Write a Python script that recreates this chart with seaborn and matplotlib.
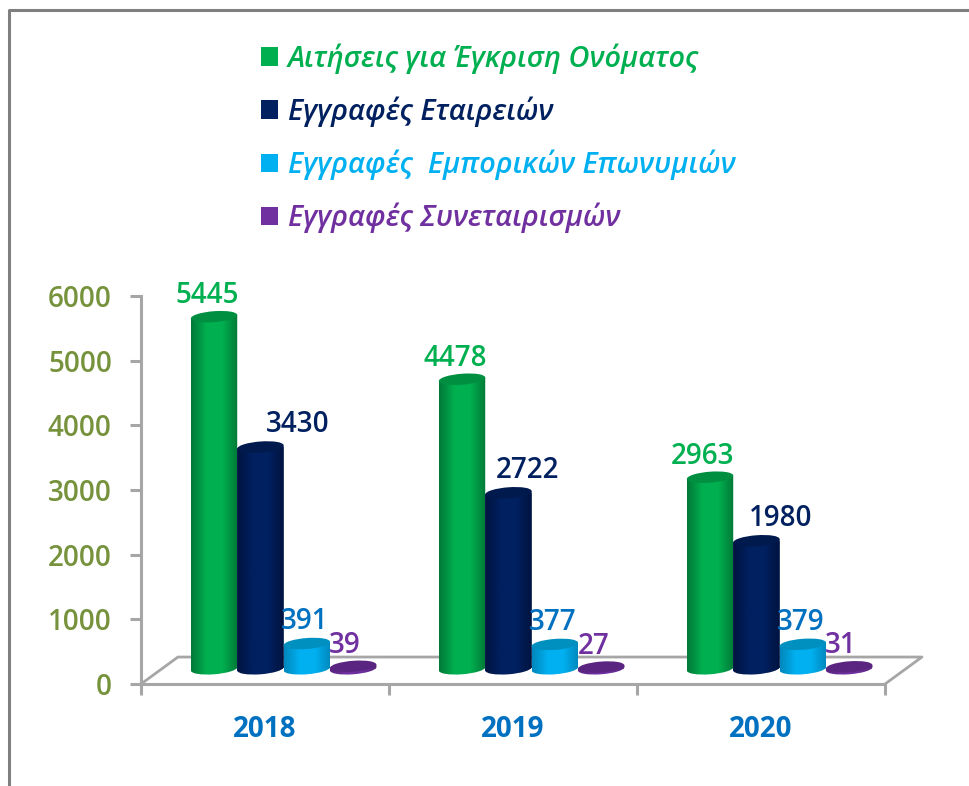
import numpy as np
import pandas as pd
import seaborn as sns
import matplotlib
matplotlib.use("Agg")
import matplotlib.pyplot as plt
from matplotlib.colors import LinearSegmentedColormap
from matplotlib.lines import Line2D
from matplotlib.patches import PathPatch
from matplotlib.path import Path
from matplotlib.transforms import Affine2D

years = ["2018", "2019", "2020"]
series_names = ["Αιτήσεις για Έγκριση Ονόματος", "Εγγραφές Εταιρειών",
                "Εγγραφές  Εμπορικών Επωνυμιών", "Εγγραφές Συνεταιρισμών"]
name_approvals = [5445, 4478, 2963]
company_regs = [3430, 2722, 1980]
trade_regs = [391, 377, 379]
coop_regs = [39, 27, 31]
series_values = [name_approvals, company_regs, trade_regs, coop_regs]
y_ticks = [0, 1000, 2000, 3000, 4000, 5000, 6000]

colors = ["#00B050", "#002060", "#00B0F0", "#7030A0"]
label_colors = ["#00B050", "#002060", "#0070C0", "#7030A0"]
edge_colors = ["#007A38", "#001440", "#0088BC", "#5A2580"]
cap_colors = ["#008F41", "#001A4D", "#0090C0", "#5A2580"]
label_dx = [[-7, -7, -8], [37, 19, 24], [-2, -2, -2], [-8, -8, -8]]
label_dy = [-21, -22, -22, -21]

W, H = 969, 786
px_left, px_right, px_zero, px_top = 141, 885, 684, 296

long = pd.DataFrame({
    "year": np.tile(years, len(series_names)),
    "series": np.repeat(series_names, len(years)),
    "value": np.concatenate(series_values),
})

sns.set_theme(style="white")
plt.rcParams["font.family"] = ["Open Sans", "DejaVu Sans"]
fig = plt.figure(figsize=(W / 100, H / 100), dpi=100, facecolor="white")
ax = fig.add_axes([px_left / W, 1 - px_zero / H,
                   (px_right - px_left) / W, (px_zero - px_top) / H])

BASE = 235
SHIFT = 0.075
CAP_H = 170
TILT = 280  # data units per category, slant of the cylinder ends
sns.barplot(data=long, x="year", y="value", hue="series", order=years,
            hue_order=series_names, palette=colors, width=0.748, gap=0,
            saturation=1, errorbar=None, ax=ax, linewidth=0)
ax.set_xlim(-0.5, 2.5)
ax.set_ylim(0, 6000)

handles, labels = ax.get_legend_handles_labels()

# floor of the 3-D box
FX, FY = 0.149, 417
floor = dict(color="#A6A6A6", lw=2, clip_on=False, zorder=1, solid_capstyle="butt")
ax.plot([-0.5, -0.5 + FX, 2.5 + FX, 2.5], [0, FY, FY, 0], **floor)


def slanted(cx, y):
    return Affine2D(np.array([[1, 0, cx], [TILT, 1, y], [0, 0, 1]], dtype=float))


# cylinders
z = 3
for si, container in enumerate(ax.containers):
    cmap = LinearSegmentedColormap.from_list(
        f"c{si}", [edge_colors[si], colors[si], colors[si], edge_colors[si]])
    grad = np.linspace(0, 1, 64)[None, :]
    for yi, bar in enumerate(container):
        bar.set_x(bar.get_x() + SHIFT)
        bar.set_y(BASE)
        bar.set_zorder(z)
        x0, w = bar.get_x(), bar.get_width()
        cx = x0 + w / 2
        top = BASE + series_values[si][yi]
        body = Path.unit_rectangle().transformed(
            Affine2D().translate(-0.5, 0).scale(w, top - BASE) + slanted(cx, BASE))
        ell = Path.unit_circle().transformed(
            Affine2D().scale(w / 2, CAP_H / 2) + slanted(cx, BASE))
        clip = Path.make_compound_path(body, ell)
        bar.set_clip_path(clip, ax.transData)
        im = ax.imshow(grad, extent=[x0, x0 + w, BASE - 3 * CAP_H, top + 3 * CAP_H],
                       aspect="auto", cmap=cmap, zorder=z + 0.1, interpolation="bilinear")
        im.set_clip_path(clip, ax.transData)
        cap = Path.unit_circle().transformed(
            Affine2D().scale(w / 2, CAP_H / 2) + slanted(cx, top))
        ax.add_patch(PathPatch(cap, facecolor=cap_colors[si], edgecolor="none", zorder=z + 0.2))
        ax.annotate(str(series_values[si][yi]), xy=(cx, top),
                    xytext=(label_dx[si][yi], -label_dy[si]), textcoords="offset pixels",
                    ha="center", va="center", color=label_colors[si],
                    fontsize=20, fontweight=600, zorder=100, annotation_clip=False)
        z += 1
ax.set_xlim(-0.5, 2.5)
ax.set_ylim(0, 6000)

# axes
sns.despine(ax=ax, top=True, right=True)
for s in ("left", "bottom"):
    ax.spines[s].set_color("#A6A6A6")
    ax.spines[s].set_linewidth(2.2)
ax.set_xlabel("")
ax.set_ylabel("")
ax.set_yticks(y_ticks)
ax.set_yticklabels([str(v) for v in y_ticks], color="#76923C", fontsize=20, fontweight=600)
ax.tick_params(axis="y", left=True, length=8, width=2.2, color="#A6A6A6", pad=13)
ax.set_xticks(range(len(years)))
ax.set_xticklabels(years, color="#0070C0", fontsize=20, fontweight=700)
ax.set_xticks([-0.5, 0.5, 1.5, 2.5], minor=True)
ax.tick_params(axis="x", which="major", bottom=False, pad=16)
ax.tick_params(axis="x", which="minor", bottom=True, length=8, width=2.2, color="#A6A6A6")

# legend
leg = ax.legend(handles, labels, loc="upper left", frameon=False,
                bbox_to_anchor=(241 / W, 1 - 23 / H), bbox_transform=fig.transFigure,
                prop=dict(size=20.8, style="italic", weight=600),
                labelspacing=0.78, handlelength=0.59, handleheight=0.59,
                handletextpad=0.32, borderpad=0.2)
for text, c in zip(leg.get_texts(), colors):
    text.set_color(c)

# outer frame
frame = dict(color="#7F7F7F", lw=2.2, transform=fig.transFigure, solid_capstyle="butt")
fig.add_artist(Line2D([8.5 / W, 8.5 / W, 1], [0, 1 - 10 / H, 1 - 10 / H], **frame))

fig.savefig("out.png", dpi=100, facecolor="white")
